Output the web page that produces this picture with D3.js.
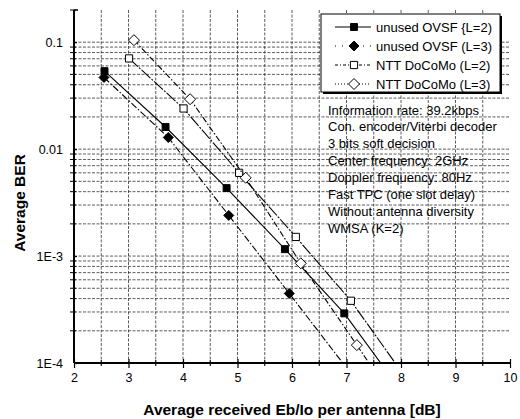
<!DOCTYPE html>
<html>
<head>
<meta charset="utf-8">
<script src="https://cdn.jsdelivr.net/npm/d3@7"></script>
<style>
  html, body { margin: 0; padding: 0; background: #fff; }
  svg { display: block; font-family: Arial, "Liberation Sans", Helvetica, sans-serif; }
</style>
</head>
<body>
<svg id="chart" width="520" height="419"></svg>
<script>
// Eb/Io (dB) and average BER for each receiver configuration
const ovsfL2X = [2.56, 3.68, 4.80, 5.87, 6.96, 8.0];
const ovsfL2Y = [0.0536, 0.0161, 0.00432, 0.00116, 0.000291, 0.000055];
const ovsfL3X = [2.55, 3.73, 4.84, 5.95, 7.0];
const ovsfL3Y = [0.0468, 0.01285, 0.0024, 0.000447, 0.00009];
const nttL2X = [3.01, 4.01, 5.03, 6.07, 7.08, 8.0];
const nttL2Y = [0.0705, 0.024, 0.0060, 0.00151, 0.000382, 0.000084];
const nttL3X = [3.10, 4.13, 5.15, 6.16, 7.19, 7.5];
const nttL3Y = [0.1045, 0.0293, 0.0054, 0.000855, 0.000147, 0.000086];

const seriesNames = ["unused OVSF {L=2)", "unused OVSF (L=3)", "NTT DoCoMo (L=2)", "NTT DoCoMo (L=3)"];
const xTickValues = [2, 3, 4, 5, 6, 7, 8, 9, 10];
const yTickValues = [0.1, 0.01, 0.001, 0.0001];
const yTickLabels = ["0.1", "0.01", "1E-3", "1E-4"];
const conditions = [
  "Information rate: 39.2kbps",
  "Con. encoder/Viterbi decoder",
  "3 bits soft decision",
  "Center frequency: 2GHz",
  "Doppler frequency: 80Hz",
  "Fast TPC (one slot delay)",
  "Without antenna diversity",
  "WMSA (K=2)"
];

const series = [
  { name: seriesNames[0], xs: ovsfL2X, ys: ovsfL2Y, symbol: d3.symbolSquare, fill: "#000", dash: null, size: 48 },
  { name: seriesNames[1], xs: ovsfL3X, ys: ovsfL3Y, symbol: "diamond", fill: "#000", dash: "7,2,1.5,2", size: 5 },
  { name: seriesNames[2], xs: nttL2X, ys: nttL2Y, symbol: d3.symbolSquare, fill: "#fff", dash: "12,1.5,2,1.5", size: 52 },
  { name: seriesNames[3], xs: nttL3X, ys: nttL3Y, symbol: "diamond", fill: "#fff", dash: "6,2,1.5,2", size: 5.5 }
];

const svg = d3.select("#chart");
const pLeft = 74, pRight = 510, pTop = 10, pBottom = 363;

const x = d3.scaleLinear().domain([2, 10]).range([pLeft, pRight]);
const y = d3.scaleLog().domain([0.0001, 0.2]).range([pBottom, pTop]);

// grid
const grid = svg.append("g").attr("stroke", "#333").attr("stroke-width", 0.8)
  .attr("stroke-dasharray", "3,1.5").attr("fill", "none");
const vGrid = d3.range(2.5, 10, 0.5);
grid.selectAll("line.v").data(vGrid).join("line")
  .attr("class", "v")
  .attr("x1", d => x(d)).attr("x2", d => x(d))
  .attr("y1", pTop).attr("y2", pBottom);
const hGrid = [];
[0.0001, 0.001, 0.01].forEach(dec => {
  for (let m = 2; m <= 9; m++) hGrid.push(dec * m);
  hGrid.push(dec * 10);
});
grid.selectAll("line.h").data(hGrid).join("line")
  .attr("class", "h")
  .attr("x1", pLeft).attr("x2", pRight)
  .attr("y1", d => y(d)).attr("y2", d => y(d));

// curves, clipped to the plotting area
svg.append("clipPath").attr("id", "plotClip")
  .append("rect").attr("x", pLeft).attr("y", pTop).attr("width", pRight - pLeft).attr("height", pBottom - pTop);

const plot = svg.append("g").attr("clip-path", "url(#plotClip)");
const line = d3.line().x(d => x(d[0])).y(d => y(d[1]));

function marker(sel, s) {
  if (s.symbol === "diamond") {
    const r = s.size;
    sel.append("path").attr("d", `M0,${-r}L${r},0L0,${r}L${-r},0Z`);
  } else {
    sel.append("path").attr("d", d3.symbol(s.symbol, s.size)());
  }
}

series.forEach(s => {
  const pts = s.xs.map((v, i) => [v, s.ys[i]]);
  plot.append("path").datum(pts)
    .attr("d", line)
    .attr("fill", "none").attr("stroke", "#000").attr("stroke-width", 1.1)
    .attr("stroke-dasharray", s.dash);
  const g = plot.append("g");
  pts.forEach(p => {
    const m = g.append("g").attr("transform", `translate(${x(p[0])},${y(p[1])})`)
      .attr("fill", s.fill).attr("stroke", "#000").attr("stroke-width", 1);
    marker(m, s);
  });
});

// axes
const xAxis = d3.axisBottom(x).tickValues(xTickValues).tickSize(5).tickPadding(5);
const gx = svg.append("g").attr("transform", `translate(0,${pBottom})`).call(xAxis);
gx.select(".domain").attr("stroke-width", 2).attr("d", `M${pLeft},0H${pRight}`);
gx.selectAll(".tick line").attr("y1", -4).attr("stroke-width", 1.2);
gx.selectAll(".tick text").attr("font-size", 12.5).attr("fill", "#000")
  .attr("font-family", "Arial, Liberation Sans, sans-serif");
gx.selectAll("line.minor").data(d3.range(2.5, 10, 1)).join("line")
  .attr("class", "minor")
  .attr("x1", d => x(d)).attr("x2", d => x(d))
  .attr("y1", -3).attr("y2", 3).attr("stroke", "#000").attr("stroke-width", 1.1);

const yAxis = d3.axisLeft(y).tickValues(yTickValues)
  .tickFormat((d, i) => yTickLabels[i]).tickSize(7).tickPadding(4);
const gy = svg.append("g").attr("transform", `translate(${pLeft},0)`).call(yAxis);
gy.select(".domain").attr("stroke-width", 2).attr("d", `M0,${pTop}V${pBottom}`);
gy.selectAll(".tick line").attr("x2", 3).attr("stroke-width", 1.2);
gy.selectAll(".tick text").attr("font-size", 12.5).attr("fill", "#000")
  .attr("font-family", "Arial, Liberation Sans, sans-serif");
const yMinor = [];
[0.0001, 0.001, 0.01, 0.1].forEach(dec => {
  for (let m = 2; m <= 9; m++) if (dec * m <= 0.2) yMinor.push(dec * m);
});
gy.selectAll("line.minor").data(yMinor).join("line")
  .attr("class", "minor")
  .attr("x1", -4).attr("x2", 2)
  .attr("y1", d => y(d)).attr("y2", d => y(d)).attr("stroke", "#000").attr("stroke-width", 1);
gy.append("line").attr("x1", 0).attr("x2", 4).attr("y1", pTop).attr("y2", pTop)
  .attr("stroke", "#000").attr("stroke-width", 1.5);

// axis titles
svg.append("text")
  .attr("x", x(6)).attr("y", 415)
  .attr("text-anchor", "middle").attr("font-size", 15.5).attr("font-weight", "bold")
  .text("Average received Eb/Io per antenna [dB]");
svg.append("text")
  .attr("transform", `translate(25,${203}) rotate(-90)`)
  .attr("text-anchor", "middle").attr("font-size", 15.5).attr("font-weight", "bold")
  .text("Average BER");

// legend
const lg = svg.append("g");
const lx = 321, ly = 14, lw = 179, lh = 78;
lg.append("rect").attr("x", lx + 2).attr("y", ly + 2).attr("width", lw).attr("height", lh).attr("fill", "#000");
lg.append("rect").attr("x", lx).attr("y", ly).attr("width", lw).attr("height", lh)
  .attr("fill", "#fff").attr("stroke", "#000").attr("stroke-width", 1);
const legendDash = [null, "1,6", "3,2,1,2", "1,2"];
series.forEach((s, i) => {
  const cy = ly + 13 + i * 19;
  lg.append("line").attr("x1", lx + 14).attr("x2", lx + 50).attr("y1", cy).attr("y2", cy)
    .attr("stroke", "#000").attr("stroke-width", 1).attr("stroke-dasharray", legendDash[i]);
  const m = lg.append("g").attr("transform", `translate(${lx + 33},${cy})`)
    .attr("fill", s.fill).attr("stroke", "#000").attr("stroke-width", 1);
  marker(m, s);
  lg.append("text").attr("x", lx + 55).attr("y", cy + 4.5).attr("font-size", 13)
    .text(s.name);
});

// simulation conditions
const tg = svg.append("g");
conditions.forEach((t, i) => {
  tg.append("text").attr("x", 328).attr("y", 114.5 + i * 16.9)
    .attr("font-size", 13).attr("fill", "#000").text(t);
});
</script>
</body>
</html>
